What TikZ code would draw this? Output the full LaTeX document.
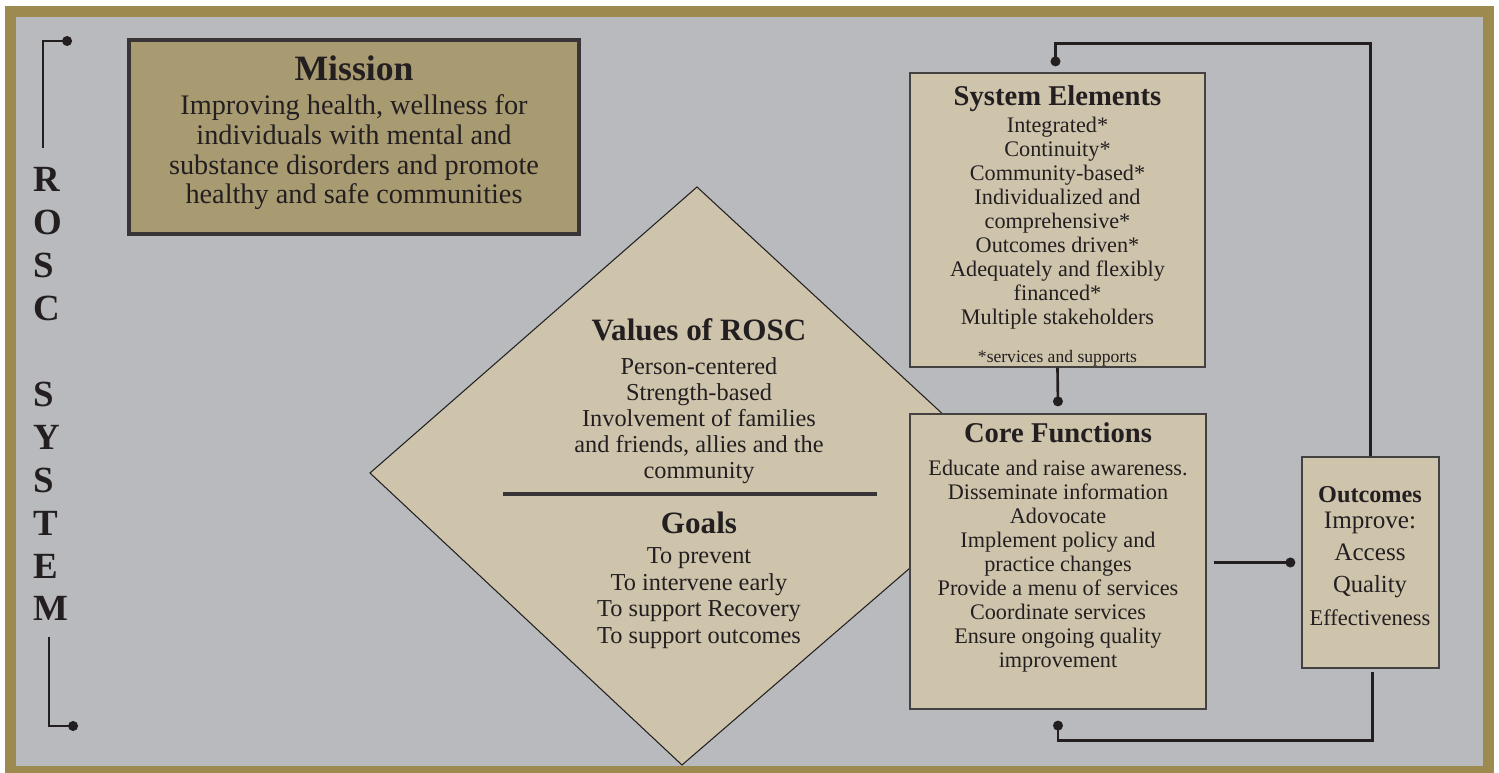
\documentclass[tikz,border=0pt]{standalone}
\usepackage{fontspec}
\setmainfont{Liberation Serif}
\usetikzlibrary{arrows.meta,calc}
\definecolor{bggray}{HTML}{B9BABE}
\definecolor{olivefr}{HTML}{9C8A4E}
\definecolor{khaki}{HTML}{A89B72}
\definecolor{tanbox}{HTML}{CEC4AC}
\definecolor{ink}{HTML}{231F20}
\begin{document}
\begin{tikzpicture}[x=0.02cm,y=-0.02cm,
  box/.style={draw=ink!85, line width=0.8pt, fill=tanbox, inner sep=0pt},
  txt/.style={inner sep=0pt, text=ink, align=center},
  conn/.style={draw=ink, line width=1.5pt, -{Circle[length=5.6pt,width=5.6pt]}},
  ttl/.style={font=\bfseries\fontsize{16.3}{18}\selectfont},
  body/.style={font=\fontsize{12.65}{13.66}\selectfont},
  dbody/.style={font=\fontsize{13.85}{14.8}\selectfont},
  dttl/.style={font=\bfseries\fontsize{17.7}{20}\selectfont}]
\useasboundingbox (0,0) rectangle (1499,773);
\fill[white] (0,0) rectangle (1499,773);
\fill[olivefr] (5,6) rectangle (1494,773);
\fill[bggray] (16,17) rectangle (1483,766);

% ROSC bracket
\coordinate (bt1) at (43,148); \coordinate (bt2) at (72,41);
\draw[conn] (bt1) |- (bt2);
\coordinate (bb1) at (49,637); \coordinate (bb2) at (78,726);
\draw[conn] (bb1) |- (bb2);
\node[anchor=base west, align=left, inner sep=0pt, text=ink,
  font=\bfseries\fontsize{21}{24.47}\selectfont] (rosc) at (33,621)
  {R\\O\\S\\C\\[24.47pt]S\\Y\\S\\T\\E\\M};

% Mission
\node[draw=ink!90, line width=2.3pt, fill=khaki, minimum width=8.99cm,
  minimum height=3.89cm, inner sep=0pt] (mission) at (354,137) {};
\node[txt, anchor=base, font=\bfseries\fontsize{20.3}{22}\selectfont] (missiont) at (354,81) {Mission};
\node[txt, anchor=base, font=\fontsize{16.1}{17.07}\selectfont] (missionb) at (354,204)
  {Improving health, wellness for\\individuals with mental and\\substance disorders and promote\\healthy and safe communities};

% Diamond
\coordinate (dt) at (697,187); \coordinate (dr) at (1013,479);
\coordinate (db) at (682,765); \coordinate (dl) at (370,473);
\filldraw[fill=tanbox, draw=ink, line width=0.6pt] (dt) -- (dr) -- (db) -- (dl) -- cycle;
\coordinate (dvl) at (503,494); \coordinate (dvr) at (877,494);
\draw[line width=2.3pt, ink!90] (dvl) -- (dvr);
\node[txt, anchor=base, dttl] (valt) at (699,341) {Values of ROSC};
\node[txt, anchor=base, dbody] (valb) at (699,479)
  {Person-centered\\Strength-based\\Involvement of families\\and friends, allies and the\\community};
\node[txt, anchor=base, dttl] (goalt) at (699,534) {Goals};
\node[txt, anchor=base, font=\fontsize{13.85}{15}\selectfont] (goalb) at (699,643)
  {To prevent\\To intervene early\\To support Recovery\\To support outcomes};

% System Elements
\node[box, minimum width=5.9cm, minimum height=5.88cm] (se) at (1057.5,220) {};
\node[txt, anchor=base, ttl] (set) at (1057.5,106) {System Elements};
\node[txt, anchor=base, body] (seb) at (1057.5,325)
  {Integrated*\\Continuity*\\Community-based*\\Individualized and\\comprehensive*\\Outcomes driven*\\Adequately and flexibly\\financed*\\Multiple stakeholders};
\node[txt, anchor=base, font=\fontsize{10}{12}\selectfont] (sen) at (1057.5,363) {*services and supports};

% Core Functions
\node[box, minimum width=5.92cm, minimum height=5.9cm] (cf) at (1058,561.5) {};
\node[txt, anchor=base, ttl] (cft) at (1058,443) {Core Functions};
\node[txt, anchor=base, body] (cfb) at (1058,667)
  {Educate and raise awareness.\\Disseminate information\\Adovocate\\Implement policy and\\practice changes\\Provide a menu of services\\Coordinate services\\Ensure ongoing quality\\improvement};

% Outcomes
\node[box, minimum width=2.74cm, minimum height=4.22cm] (out) at (1370.5,562.5) {};
\node[txt, anchor=base, font=\bfseries\fontsize{13.8}{15}\selectfont] (outt) at (1370,503) {Outcomes};
\node[txt, anchor=base, font=\fontsize{14.3}{16}\selectfont] (out1) at (1370,529) {Improve:};
\node[txt, anchor=base, font=\fontsize{14.3}{16}\selectfont] (out2) at (1370,561) {Access};
\node[txt, anchor=base, font=\fontsize{14}{16}\selectfont] (out3) at (1370,593) {Quality};
\node[txt, anchor=base, font=\fontsize{12.8}{16}\selectfont] (out4) at (1370,625) {Effectiveness};

% Connectors
\coordinate (cfo) at ($(cf.east)+(7,0)$);
\draw[conn] (out.north) |- ($(se.north)+(-2,-29)$) -- ($(se.north)+(-2,-6)$);
\draw[conn] (se.south) -- ($(cf.north)+(0,-7)$);
\draw[conn] (cfo |- out.west) -- ($(out.west)+(-6,0)$);
\draw[conn] ($(out.south)+(2,3)$) |- ($(cf.south)+(0,31)$) -- ($(cf.south)+(0,11)$);
\end{tikzpicture}
\end{document}
